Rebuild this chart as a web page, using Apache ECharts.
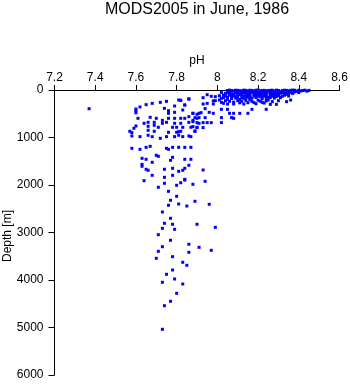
<!DOCTYPE html>
<html>
<head>
<meta charset="utf-8">
<script src="https://cdn.jsdelivr.net/npm/echarts@6/dist/echarts.min.js"></script>
<style>html,body{margin:0;padding:0;background:#fff}#c{width:350px;height:384px}</style>
</head>
<body>
<div id="c"></div>
<script>
var titleText = 'MODS2005 in June, 1986';
var yName = 'Depth [m]';
var xTicks = [7.2, 7.4, 7.6, 7.8, 8, 8.2, 8.4, 8.6];
var yTicks = [0, 1000, 2000, 3000, 4000, 5000, 6000];

// near-surface cluster [pH, depth m]
var surfacePts = [
[8.05,10],[8.07,25],[8.09,5],[8.11,15],[8.12,30],[8.14,8],[8.15,20],[8.17,12],[8.18,35],[8.19,5],
[8.21,18],[8.22,28],[8.23,8],[8.25,15],[8.26,35],[8.27,5],[8.28,22],[8.3,10],[8.31,30],[8.32,12],
[8.33,5],[8.35,20],[8.36,8],[8.38,15],[8.4,5],[8.42,10],[8.44,25],[8.4,55],
[8.06,2],[8.08,18],[8.1,32],[8.13,3],[8.16,28],[8.2,2],[8.24,30],[8.29,3],[8.34,32],[8.37,2],[8.39,28],[8.41,18],
[8.07,12],[8.1,8],[8.12,20],[8.14,40],[8.16,5],[8.18,22],[8.2,38],[8.22,12],[8.24,20],[8.26,8],[8.28,35],
[8.3,25],[8.32,40],[8.34,8],[8.36,30],[8.38,5],[8.43,3],[8.45,8],[8.25,25],[8.19,15],[8.13,18],
[8.02,50],[8.04,70],[8.06,45],[8.08,90],[8.1,60],[8.11,80],[8.13,50],[8.14,95],[8.16,65],[8.17,45],
[8.19,85],[8.2,55],[8.22,75],[8.23,100],[8.24,50],[8.26,70],[8.27,90],[8.29,60],[8.3,80],[8.31,45],
[8.33,65],[8.34,90],[8.36,50],[8.37,75],[8.25,40],[8.18,60],[8.12,75],[8.28,45],[8.21,95],[8.15,110],
[8.05,60],[8.07,85],[8.09,48],[8.12,100],[8.15,70],[8.18,95],[8.21,48],[8.23,62],[8.26,100],[8.28,80],[8.32,55],[8.35,70],[8.38,40],
[8.06,75],[8.09,65],[8.11,95],[8.14,60],[8.16,85],[8.19,70],[8.22,90],[8.24,80],[8.27,55],[8.29,95],[8.31,68],[8.33,85],[8.35,45],
[7.99,140],[8.01,120],[8.03,160],[8.04,130],[8.06,110],[8.07,180],[8.09,140],[8.1,120],[8.12,165],[8.13,130],
[8.15,150],[8.16,190],[8.18,125],[8.19,160],[8.21,140],[8.22,185],[8.24,115],[8.25,150],[8.27,130],[8.28,170],
[8.3,120],[8.31,150],[8.33,110],[8.35,126],[8.31,162],[8.2,110],[8.11,200],[8.05,195],[7.97,133],[7.93,162],[7.95,99],
[8.02,175],[8.05,150],[8.08,125],[8.1,160],[8.13,175],[8.16,135],[8.19,115],[8.22,150],[8.24,175],[8.26,120],[8.29,140],[8.32,130],
[8.07,140],[8.12,115],[8.14,155],[8.17,170],[8.2,130],[8.23,125],[8.26,160],[8.28,118],[8.03,105],[8.09,170],
[7.98,230],[8.01,211],[8.02,260],[8.03,281],[8.05,295],[8.06,240],[8.08,295],[8.1,225],[8.11,270],[8.13,295],
[8.14,220],[8.15,267],[8.17,240],[8.19,290],[8.2,215],[8.22,260],[8.24,230],[8.26,302],[8.27,245],[8.29,302],
[8.34,246],[8.36,211],[8.16,205],[8.23,275],[8.04,225],[8.08,255],[8.12,240],[8.18,265],[8.21,235],[8.25,210],[8.3,225]
];

// upper ocean 300-1000 m
var upperPts = [
[7.93,295],[7.95,281],[7.98,295],[7.99,225],[7.81,211],[7.86,189],[7.84,316],[7.82,218],
[8.17,407],[8.24,407],
[7.88,491],[7.9,512],[7.92,477],[7.94,393],[7.96,470],[7.98,491],[8.02,407],[8.05,407],[8.06,491],[8.08,491],[8.11,491],[8.15,491],
[7.86,561],[7.89,582],[7.91,582],[7.94,582],[8.02,582],[8.07,582],[8.08,596],
[7.88,666],[7.9,687],[7.93,687],[7.95,687],[7.97,687],[8.02,687],
[7.88,771],[7.9,792],[7.93,792],[7.89,863],
[7.37,394],[7.62,358],[7.65,309],[7.68,281],[7.72,260],[7.75,239],[7.82,218],[7.86,189],
[7.6,400],[7.6,440],[7.6,480],[7.74,386],[7.76,435],[7.79,337],[7.84,316],[7.76,491],[7.79,470],[7.83,421],
[7.88,491],[7.91,491],[7.61,596],[7.67,575],[7.7,596],[7.73,638],[7.76,596],[7.79,596],[7.82,596],[7.84,596],
[7.86,680],[7.88,638],[7.9,596],[7.64,701],[7.66,680],[7.69,680],[7.69,743],[7.73,701],[7.75,680],[7.79,701],
[7.82,701],[7.91,701],[7.6,758],[7.66,764],[7.71,785],[7.78,785],[7.8,785],[7.83,785],[7.87,785],[7.9,785],
[7.59,806],[7.66,848],[7.69,869],[7.76,890],[7.8,890],[7.82,869],[7.89,869],[7.57,869],[7.58,898],[7.81,877],
[7.58,968],[7.62,982],[7.66,953],[7.68,982],[7.72,1017],[7.75,982],[7.79,982],[7.81,953],[7.83,982],[7.86,968],[7.87,982]
];

// intermediate 1000-2000 m
var midPts = [
[7.58,1228],[7.62,1249],[7.65,1207],[7.67,1186],[7.75,1228],[7.76,1249],[7.78,1207],[7.81,1207],[7.84,1207],[7.87,1207],
[7.7,1375],[7.71,1396],[7.63,1438],[7.65,1459],[7.68,1522],[7.77,1480],[7.78,1417],[7.84,1459],[7.87,1459],
[7.63,1565],[7.63,1606],[7.65,1669],[7.66,1690],[7.74,1669],[7.78,1648],[7.81,1712],[7.83,1690],[7.84,1648],[7.86,1585],[7.93,1684],
[7.68,1796],[7.74,1838],[7.78,1796],[7.84,1880],[7.64,1909],[7.94,1922],[7.88,1985],[7.8,2006],[7.74,1964],[7.71,2048],[7.82,1952],[7.84,1895]
];

// deep > 2000 m
var deepPts = [
[7.76,2133],[7.8,2238],[7.77,2322],[7.89,2343],[7.81,2400],[7.96,2406],[7.76,2427],[7.85,2442],[7.73,2568],[7.77,2701],
[7.74,2806],[7.78,2827],[7.9,2827],[7.99,2891],[7.73,2912],[7.79,2933],[7.71,3046],[7.77,3164],[7.86,3248],[7.73,3299],
[7.91,3312],[7.97,3375],[7.71,3396],[7.86,3417],[7.78,3509],[7.7,3543],[7.83,3627],[7.85,3690],[7.78,3789],[7.75,3880],
[7.79,3979],[7.73,4048],[7.83,4084],[7.8,4280],[7.77,4448],[7.74,4541],[7.73,5038]
];

var allPts = surfacePts.concat(upperPts, midPts, deepPts);

var font = 'Liberation Sans, Arial, Helvetica, sans-serif';
var chart = echarts.init(document.getElementById('c'), null, {renderer: 'canvas'});
chart.setOption({
  animation: false,
  backgroundColor: '#fff',
  graphic: [{
    type: 'text', x: 197, y: 2, silent: true,
    style: {text: titleText, fill: '#000', font: '16px ' + font, textAlign: 'center', textVerticalAlign: 'top'}
  }, {
    type: 'text', x: 8, y: 236, rotation: Math.PI / 2, silent: true,
    style: {text: yName, fill: '#000', font: '12px ' + font, textAlign: 'center', textVerticalAlign: 'middle'}
  }],
  grid: {left: 54.5, top: 90, width: 285, height: 285, containLabel: false, outerBoundsMode: 'none'},
  xAxis: {
    type: 'value', position: 'top', min: xTicks[0], max: xTicks[xTicks.length - 1], interval: 0.2,
    name: 'pH', nameLocation: 'middle', nameGap: 21,
    nameTextStyle: {fontFamily: font, fontSize: 12, color: '#000'},
    axisLine: {show: true, onZero: false, lineStyle: {color: '#000', width: 1}},
    axisTick: {show: true, length: 5, lineStyle: {color: '#000'}},
    axisLabel: {fontFamily: font, fontSize: 12, color: '#000', margin: 6,
      formatter: function (v) { return String(+v.toFixed(1)); }},
    splitLine: {show: false}
  },
  yAxis: {
    type: 'value', inverse: true, min: yTicks[0], max: yTicks[yTicks.length - 1], interval: 1000,
    axisLine: {show: true, onZero: false, lineStyle: {color: '#000', width: 1}},
    axisTick: {show: true, length: 6, lineStyle: {color: '#000'}},
    axisLabel: {fontFamily: font, fontSize: 12, color: '#000', margin: 11,
      formatter: function (v) { return String(v); }},
    splitLine: {show: false}
  },
  series: [{
    type: 'scatter',
    data: allPts,
    symbol: 'rect',
    symbolSize: 3,
    itemStyle: {color: '#0000ff', opacity: 1},
    silent: true
  }]
});
</script>
</body>
</html>
